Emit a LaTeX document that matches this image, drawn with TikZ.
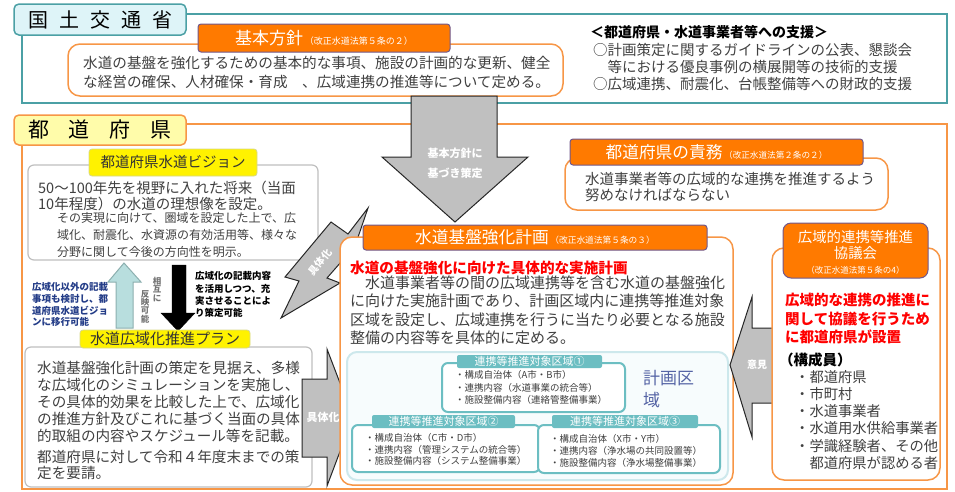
\documentclass[tikz,border=0pt]{standalone}
\usepackage{fontspec}
\setmainfont{Noto Sans CJK JP}
\usetikzlibrary{fit}
\usepackage{xcolor}

\definecolor{mlitteal}{RGB}{75,160,165}
\definecolor{mlitfill}{RGB}{222,244,248}
\definecolor{preforange}{RGB}{247,150,70}
\definecolor{prefyellow}{RGB}{255,252,170}
\definecolor{taborange}{RGB}{255,122,0}
\definecolor{tabedge}{RGB}{112,88,140}
\definecolor{yedge}{RGB}{215,215,140}
\definecolor{arrowgray}{RGB}{192,192,192}
\definecolor{upblue}{RGB}{184,222,222}
\definecolor{upedge}{RGB}{140,175,175}
\definecolor{areaedge}{RGB}{205,232,236}
\definecolor{areafill}{RGB}{247,252,253}
\definecolor{zoneteal}{RGB}{108,190,194}
\definecolor{keikakublue}{RGB}{85,100,165}
\definecolor{noteblue}{RGB}{35,60,135}
\definecolor{textgray}{RGB}{64,64,64}
\definecolor{alertred}{RGB}{255,0,0}

\newcommand{\jfs}[2]{\fontsize{#1}{#2}\selectfont}

\tikzset{
  frame/.style={line width=2.5pt, inner sep=0pt},
  bigtab/.style={rounded corners=5pt, line width=1.5pt, inner sep=0pt},
  otab/.style={draw=tabedge, fill=taborange, rounded corners=3pt, line width=1pt, inner sep=0pt},
  ytab/.style={draw=yedge, fill=yellow, rounded corners=3pt, line width=.8pt, inner sep=0pt},
  opanel/.style={draw=preforange, fill=white, rounded corners=12pt, line width=1.5pt, inner sep=0pt},
  gpanel/.style={draw=black!25, fill=white, rounded corners=6pt, line width=1.2pt, inner sep=0pt},
  zone/.style={draw=zoneteal, fill=white, rounded corners=6pt, line width=2pt, inner sep=0pt},
  zonetab/.style={fill=zoneteal, rounded corners=2pt, inner sep=0pt},
  body/.style={text=textgray, align=left, inner sep=0pt, anchor=north west},
  tabtext/.style={text=white, inner sep=0pt},
  vtext/.style={inner sep=0pt, anchor=north, text width=9pt, align=center, text=black!55, font=\bfseries\jfs{8.5}{8.4}},
  bigarrow/.style={draw=black!85, fill=arrowgray, line width=1pt, line join=miter},
  arrowtext/.style={text=white, inner sep=0pt, font=\bfseries\jfs{11}{11}}
}

\begin{document}
\begin{tikzpicture}[x=1pt,y=-1pt]
\useasboundingbox (0,0) rectangle (955,491);

% kuni
\node[frame, draw=mlitteal, fit={(22,14)(947,103)}] (mlit) {};
\node[bigtab, draw=mlitteal, fill=mlitfill, fit={(14,4)(186,35)}] (mlittab) {};
\node[inner sep=0pt, font=\jfs{20}{20}] (mlitlabel) at (mlittab.center) {国\hspace{11pt}土\hspace{11pt}交\hspace{11pt}通\hspace{11pt}省};
\node[opanel, fit={(68,44)(563,96)}] (kihon) {};
\node[otab, fit={(198,24)(450,52)}] (kihontab) {};
\node[tabtext] at (kihontab.center) {{\jfs{17}{17}基本方針}\,{\jfs{9}{9}（改正水道法第５条の２）}};
\node[body, font=\jfs{14.6}{19}] (kihontext) at (83,56) {水道の基盤を強化するための基本的な事項、施設の計画的な更新、健全\\な経営の確保、人材確保・育成　、広域連携の推進等について定める。};
\node[body, text=black, font=\bfseries\jfs{14}{14}] (shienhead) at (590,25.3) {＜都道府県・水道事業者等への支援＞};
\node[body, font=\jfs{14.5}{17}] (shien) at (593,43) {○計画策定に関するガイドラインの公表、懇談会\\　等における優良事例の横展開等の技術的支援\\○広域連携、耐震化、台帳整備等への財政的支援};

% todofuken
\node[frame, draw=preforange, fit={(22,124)(947,489)}] (pref) {};
\node[bigtab, draw=preforange, fill=prefyellow, fit={(14,115)(186,145)}] (preftab) {};
\node[inner sep=0pt, font=\jfs{21}{21}] (preflabel) at (preftab.center) {都\hspace{20pt}道\hspace{20pt}府\hspace{20pt}県};

\draw[bigarrow] (411,96) -- (497,96) -- (497,157) -- (528,157) -- (455,222) -- (382,157) -- (411,157) -- cycle;
\node[arrowtext] (sakutei1) at (455,153) {基本方針に};
\node[arrowtext] (sakutei2) at (455,173) {基づき策定};

% vision
\node[gpanel, fit={(28,165)(318,260)}] (vision) {};
\node[ytab, fit={(89,149)(257,176)}] (visiontab) {};
\node[inner sep=0pt, text=black!80, font=\jfs{14.5}{14.5}] at (visiontab.center) {都道府県水道ビジョン};
\node[body, font=\jfs{14.5}{15.5}] (visiontext) at (38,181) {50～100年先を視野に入れた将来（当面\\10年程度）の水道の理想像を設定。};
\node[body, font=\jfs{12}{17}] (visionsub) at (57,212.2) {その実現に向けて、圏域を設定した上で、広\\域化、耐震化、水資源の有効活用等、様々な\\分野に関して今後の方向性を明示。};

\draw[draw=upedge, fill=upblue, line width=1pt] (124,263) -- (141,282) -- (133,282) -- (133,328) -- (116,328) -- (116,282) -- (108,282) -- cycle;
\node[body, text=noteblue, font=\bfseries\jfs{9.5}{11.7}] (ikou) at (32,282.4) {広域化以外の記載\\事項も検討し、都\\道府県水道ビジョ\\ンに移行可能};
\node[vtext] (sougo) at (157,277) {相\\互\\に};
\node[vtext] (hanei) at (145,290) {反\\映\\可\\能};
\draw[fill=black] (172,265) -- (186,265) -- (186,313) -- (195,313) -- (178,331) -- (161,313) -- (172,313) -- cycle;
\node[body, text=black, font=\bfseries\jfs{9.5}{12.3}] (katsuyou) at (195,271.4) {広域化の記載内容\\を活用しつつ、充\\実させることによ\\り策定可能};

% plan
\node[gpanel, fit={(25,347)(312,487)}] (plan) {};
\node[ytab, fit={(80,330)(250,348)}] (plantab) {};
\node[inner sep=0pt, text=black!80, font=\jfs{15}{15}] at (plantab.center) {水道広域化推進プラン};
\node[body, font=\jfs{14.6}{17}] (plantext) at (37,361) {水道基盤強化計画の策定を見据え、多様\\な広域化のシミュレーションを実施し、\\その具体的効果を比較した上で、広域化\\の推進方針及びこれに基づく当面の具体\\的取組の内容やスケジュール等を記載。};
\node[body, font=\jfs{14.6}{16}] (youseitext) at (37,450) {都道府県に対して令和４年度末までの策\\定を要請。};

% gutaika
\draw[bigarrow] (368,208) -- (348,234) -- (331,222) -- (285,277) -- (299,281) -- (281,318) -- (340,283) -- (327,278) -- (355,246) -- cycle;
\node[arrowtext, rotate=51, font=\bfseries\jfs{10}{10}] (gutai1) at (320,262) {具体化};
\draw[bigarrow] (302,379) -- (327,379) -- (327,349) -- (353,417) -- (327,486) -- (327,457) -- (302,457) -- cycle;
\node[arrowtext] (gutai2) at (323,417) {具体化};

% sekimu
\node[opanel, fit={(565,158)(888,210)}] (sekimu) {};
\node[otab, fit={(570,139)(863,165)}] (sekimutab) {};
\node[tabtext] at (sekimutab.center) {{\jfs{16.7}{16.7}都道府県の責務}\,{\jfs{8.6}{8.6}（改正水道法第２条の２）}};
\node[body, font=\jfs{14.5}{16}] (sekimutext) at (585,172) {水道事業者等の広域的な連携を推進するよう\\努めなければならない};

% kiban
\node[opanel, fit={(340,237)(733,485)}] (kiban) {};
\node[otab, fit={(363,225)(707,250)}] (kibantab) {};
\node[tabtext] at (kibantab.center) {{\jfs{16.7}{16.7}水道基盤強化計画}\,{\jfs{8.7}{8.7}（改正水道法第５条の３）}};
\node[body, text=alertred, font=\bfseries\jfs{14.6}{14.6}] (kibanhead) at (350,261) {水道の基盤強化に向けた具体的な実施計画};
\node[body, font=\jfs{15}{18.3}] (kibantext) at (350,275.8) {　水道事業者等の間の広域連携等を含む水道の基盤強化\\に向けた実施計画であり、計画区域内に連携等推進対象\\区域を設定し、広域連携を行うに当たり必要となる施設\\整備の内容等を具体的に定める。};
\node[draw=areaedge, fill=areafill, rounded corners=10pt, line width=2pt, inner sep=0pt, fit={(347,352)(728,480)}] (area) {};
\node[body, text=keikakublue, font=\jfs{17}{22}] (areatext) at (643,369.8) {計画区\\域};

\node[zone, fit={(442,363)(625,412)}] (zone1) {};
\node[zonetab, fit={(457,355)(602,368)}] (zone1tab) {};
\node[tabtext, font=\jfs{11}{11}] at (zone1tab.center) {連携等推進対象区域①};
\node[body, font=\jfs{9.5}{12.5}] (zone1text) at (455,370.4) {・構成自治体（A市・B市）\\・連携内容（水道事業の統合等）\\・施設整備内容（連絡管整備事業）};

\node[zone, fit={(352,425)(540,472)}] (zone2) {};
\node[zonetab, fit={(372,415)(515,428)}] (zone2tab) {};
\node[tabtext, font=\jfs{11}{11}] at (zone2tab.center) {連携等推進対象区域②};
\node[body, font=\jfs{9.5}{11.5}] (zone2text) at (365,433.4) {・構成自治体（C市・D市）\\・連携内容（管理システムの統合等）\\・施設整備内容（システム整備事業）};

\node[zone, fit={(538,425)(720,473)}] (zone3) {};
\node[zonetab, fit={(552,415)(698,428)}] (zone3tab) {};
\node[tabtext, font=\jfs{11}{11}] at (zone3tab.center) {連携等推進対象区域③};
\node[body, font=\jfs{9.5}{12}] (zone3text) at (550,434.4) {・構成自治体（X市・Y市）\\・連携内容（浄水場の共同設置等）\\・施設整備内容（浄水場整備事業）};

% kyougikai
\draw[bigarrow] (773,328) -- (752,328) -- (752,297) -- (730,365) -- (752,437) -- (752,403) -- (773,403) -- cycle;
\node[arrowtext, font=\bfseries\jfs{10}{10}] (iken) at (757,365) {意見};
\node[opanel, fit={(772,248)(940,480)}] (kyougi) {};
\node[otab, rounded corners=8pt, fit={(783,223)(928,278)}] (kyougitab) {};
\node[tabtext, font=\jfs{14.4}{14.4}] at (855.5,237) {広域的連携等推進};
\node[tabtext, font=\jfs{14.4}{14.4}] at (855.5,253) {協議会};
\node[tabtext, font=\jfs{8.5}{8.5}] at (855.5,270) {（改正水道法第５条の4）};
\node[body, text=alertred, font=\bfseries\jfs{14.5}{18.5}] (kyougihead) at (785,293) {広域的な連携の推進に\\関して協議を行うため\\に都道府県が設置};
\node[body, text=black, font=\bfseries\jfs{14.5}{14.5}] (member) at (779,353) {（構成員）};
\node[body, font=\jfs{14.3}{17.2}] (memberlist) at (795,370) {・都道府県\\・市町村\\・水道事業者\\・水道用水供給事業者\\・学識経験者、その他\\　都道府県が認める者};
\end{tikzpicture}
\end{document}
